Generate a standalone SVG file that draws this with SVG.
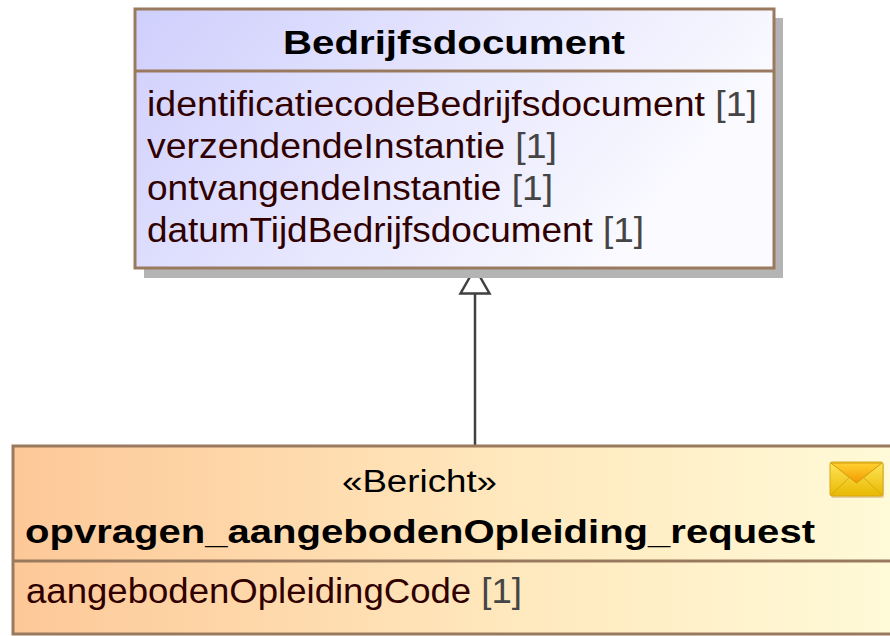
<svg xmlns="http://www.w3.org/2000/svg" width="890" height="636" viewBox="0 0 890 636">
  <style>
    .border { stroke: #997a5e; stroke-width: 3; }
    .title { font-family: "Liberation Sans", Arial, sans-serif; font-weight: bold; font-size: 34px; fill: #000000; }
    .stereo { font-family: "Liberation Sans", Arial, sans-serif; font-size: 31px; fill: #000000; }
    .attr { font-family: "Liberation Sans", Arial, sans-serif; font-size: 35px; fill: #300000; }
    .mult { fill: #454545; }
    .conn { stroke: #404040; stroke-width: 2.5; fill: none; }
  </style>
  <defs>
    <linearGradient id="gBlue" x1="0" y1="0" x2="1" y2="0.35">
      <stop offset="0" stop-color="#cfcffd"/>
      <stop offset="1" stop-color="#fbfbff"/>
    </linearGradient>
    <linearGradient id="gOrange" x1="0" y1="0" x2="1" y2="0">
      <stop offset="0" stop-color="#fdc898"/>
      <stop offset="0.55" stop-color="#ffe8bd"/>
      <stop offset="1" stop-color="#fffbd9"/>
    </linearGradient>
    <linearGradient id="gEnv" x1="0" y1="0" x2="0" y2="1">
      <stop offset="0" stop-color="#ffe65a"/>
      <stop offset="1" stop-color="#e9b800"/>
    </linearGradient>
    <linearGradient id="gFlap" x1="0" y1="0" x2="0" y2="1">
      <stop offset="0" stop-color="#ffd230"/>
      <stop offset="1" stop-color="#f29a00"/>
    </linearGradient>
  </defs>

  <g id="connectors">
    <line class="conn" x1="475" y1="446" x2="475" y2="293"/>
    <polygon class="conn" points="475,268 460.5,293.5 489.5,293.5" style="fill:#ffffff"/>
  </g>

  <g id="Bedrijfsdocument">
    <rect x="144" y="18" width="639" height="260" fill="#b4b4b4"/>
    <rect class="border" x="135" y="9" width="639" height="259" fill="url(#gBlue)"/>
    <line class="border" x1="135" y1="71" x2="774" y2="71"/>
    <text class="title" x="283" y="54" textLength="342" lengthAdjust="spacingAndGlyphs">Bedrijfsdocument</text>
    <text class="attr" x="147" y="116" textLength="610" lengthAdjust="spacingAndGlyphs">identificatiecodeBedrijfsdocument <tspan class="mult">[1]</tspan></text>
    <text class="attr" x="147" y="158" textLength="410" lengthAdjust="spacingAndGlyphs">verzendendeInstantie <tspan class="mult">[1]</tspan></text>
    <text class="attr" x="147" y="200" textLength="406" lengthAdjust="spacingAndGlyphs">ontvangendeInstantie <tspan class="mult">[1]</tspan></text>
    <text class="attr" x="147" y="242" textLength="497" lengthAdjust="spacingAndGlyphs">datumTijdBedrijfsdocument <tspan class="mult">[1]</tspan></text>
  </g>

  <g id="opvragen_aangebodenOpleiding_request">
    <rect class="border" x="13" y="446" width="900" height="188" fill="url(#gOrange)"/>
    <line class="border" x1="13" y1="561" x2="890" y2="561"/>
    <text class="stereo" x="342" y="492" textLength="155" lengthAdjust="spacingAndGlyphs">«Bericht»</text>
    <text class="title" x="25" y="543" textLength="790" lengthAdjust="spacingAndGlyphs">opvragen_aangebodenOpleiding_request</text>
    <text class="attr" x="26" y="603" textLength="496" lengthAdjust="spacingAndGlyphs">aangebodenOpleidingCode <tspan class="mult">[1]</tspan></text>
    <g id="envelope">
      <rect x="831" y="463" width="53" height="35" rx="2" fill="#c9a56a" opacity="0.5"/>
      <rect x="830" y="462" width="53" height="34" rx="2" fill="url(#gEnv)" stroke="#d4a818" stroke-width="1"/>
      <polygon points="831,463 882,463 856.5,483" fill="url(#gFlap)" stroke="#d49a10" stroke-width="1"/>
      <line x1="831" y1="495" x2="849" y2="478" stroke="#d4a818" stroke-width="1"/>
      <line x1="882" y1="495" x2="864" y2="478" stroke="#d4a818" stroke-width="1"/>
    </g>
  </g>
</svg>
